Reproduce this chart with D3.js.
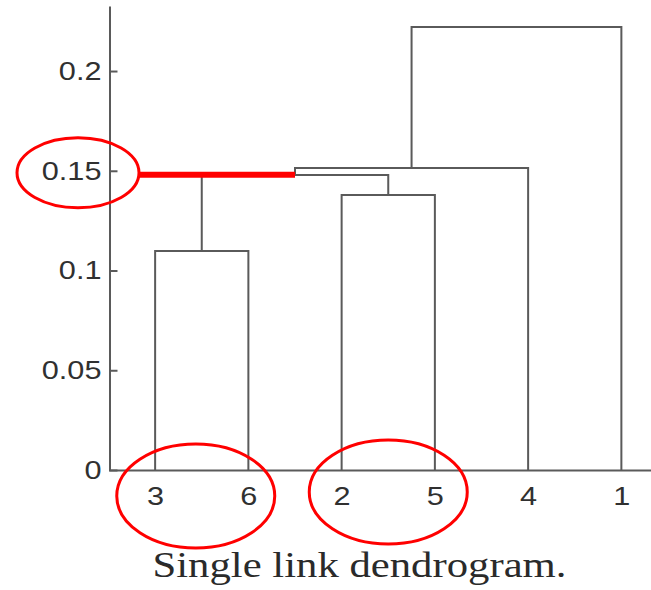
<!DOCTYPE html>
<html>
<head>
<meta charset="utf-8">
<script src="https://cdn.jsdelivr.net/npm/d3@7"></script>
<style>
  html, body { margin: 0; padding: 0; background: #fff; }
  svg { display: block; }
</style>
</head>
<body>
<div id="chart"></div>
<script>
// Leaf order along the x axis
const leafOrder = ["3", "6", "2", "5", "4", "1"];

// Merges: [left child, right child, height] (children are leaf labels or merge ids "m0".."m4")
const mergeLeft = ["3", "2", "m0", "m2", "m3"];
const mergeRight = ["6", "5", "m1", "4", "1"];
const mergeHeight = [0.1098, 0.1378, 0.1479, 0.1514, 0.2221];

// Y axis ticks
const yTicks = [0, 0.05, 0.1, 0.15, 0.2];
const yTickLabels = ["0", "0.05", "0.1", "0.15", "0.2"];

// Highlighted cut level and circled leaf pairs
const cutLevel = 0.148;
const circledPairs = [["3", "6"], ["2", "5"]];

const width = 651;
const height = 590;
const lineColor = "#5a5a5a";
const textColor = "#303030";

const svg = d3.select("#chart")
  .append("svg")
  .attr("width", width)
  .attr("height", height);

// Scales
const x = d3.scalePoint().domain(leafOrder).range([108.5, 668]).padding(0.5);
const y = d3.scaleLinear().domain([0, 0.2326]).range([470, 6]);

// Compute node positions
const nodePos = {};
leafOrder.forEach((d) => { nodePos[d] = { x: x(d), h: 0 }; });
const links = [];
mergeHeight.forEach((h, i) => {
  const a = nodePos[mergeLeft[i]];
  const b = nodePos[mergeRight[i]];
  nodePos["m" + i] = { x: (a.x + b.x) / 2, h: h };
  links.push({ a: a, b: b, h: h });
});

// Dendrogram links (U shapes)
svg.append("g")
  .selectAll("path")
  .data(links)
  .enter()
  .append("path")
  .attr("fill", "none")
  .attr("stroke", lineColor)
  .attr("stroke-width", 2)
  .attr("stroke-linejoin", "miter")
  .attr("d", (d) => {
    const p = d3.path();
    p.moveTo(d.a.x, y(d.a.h));
    p.lineTo(d.a.x, y(d.h));
    p.lineTo(d.b.x, y(d.h));
    p.lineTo(d.b.x, y(d.b.h));
    return p.toString();
  });

// Y axis (ticks pointing inwards)
const yAxis = svg.append("g")
  .attr("transform", "translate(109.5,0)")
  .call(d3.axisLeft(y)
    .tickValues(yTicks)
    .tickFormat((d, i) => yTickLabels[i])
    .tickSizeInner(-8)
    .tickSizeOuter(0)
    .tickPadding(8));

// X axis
const xAxis = svg.append("g")
  .attr("transform", "translate(0,470)")
  .call(d3.axisBottom(x).tickSize(0).tickPadding(17));

[yAxis, xAxis].forEach((g) => {
  g.select(".domain").attr("stroke", lineColor).attr("stroke-width", 2);
  g.selectAll(".tick line").attr("stroke", lineColor).attr("stroke-width", 2);
  g.selectAll(".tick text")
    .attr("fill", textColor)
    .style("font-family", "'Liberation Sans', Arial, sans-serif")
    .style("font-size", "26px")
    .each(function () {
      // labels in the reference are a bit wider than Arial
      const len = this.getComputedTextLength();
      d3.select(this)
        .attr("textLength", len * 1.18)
        .attr("lengthAdjust", "spacingAndGlyphs");
    });
});

// Red annotation: cut line from the 0.15 label to the merged cluster
const cutCluster = nodePos["m2"];
const labelEllipse = { cx: 78, cy: y(0.15) + 2, rx: 61, ry: 35 };
svg.append("line")
  .attr("x1", labelEllipse.cx + labelEllipse.rx)
  .attr("x2", cutCluster.x)
  .attr("y1", y(cutLevel))
  .attr("y2", y(cutLevel))
  .attr("stroke", "#ff0000")
  .attr("stroke-width", 6);

svg.append("ellipse")
  .attr("cx", labelEllipse.cx)
  .attr("cy", labelEllipse.cy)
  .attr("rx", labelEllipse.rx)
  .attr("ry", labelEllipse.ry)
  .attr("fill", "none")
  .attr("stroke", "#ff0000")
  .attr("stroke-width", 3);

// Red ellipses round the leaf pairs
svg.append("g")
  .selectAll("ellipse")
  .data(circledPairs)
  .enter()
  .append("ellipse")
  .attr("cx", (d, i) => (x(d[0]) + x(d[1])) / 2 + (i === 0 ? -6 : 0))
  .attr("cy", (d, i) => (i === 0 ? 496 : 492))
  .attr("rx", 79)
  .attr("ry", 52)
  .attr("fill", "none")
  .attr("stroke", "#ff0000")
  .attr("stroke-width", 3);

// Caption
svg.append("text")
  .attr("x", 359.5)
  .attr("y", 577)
  .attr("text-anchor", "middle")
  .attr("fill", "#2a2a2a")
  .attr("textLength", 414)
  .attr("lengthAdjust", "spacingAndGlyphs")
  .style("font-family", "'Liberation Serif', 'Times New Roman', serif")
  .style("font-size", "36px")
  .text("Single link dendrogram.");
</script>
</body>
</html>
